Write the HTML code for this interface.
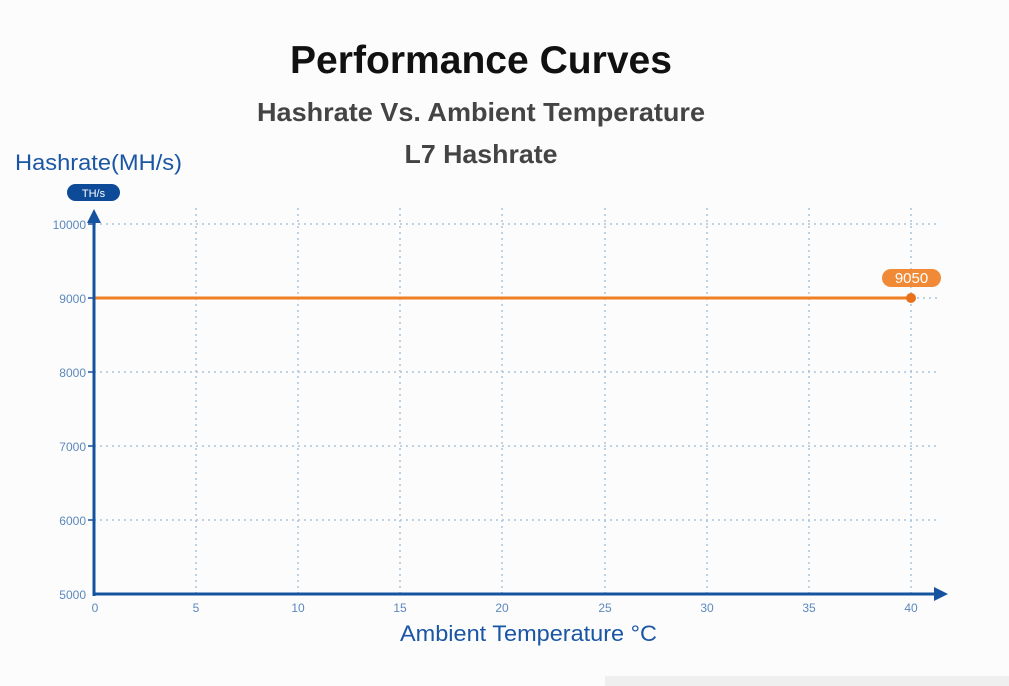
<!DOCTYPE html>
<html><head><meta charset="utf-8"><style>
html,body{margin:0;padding:0;background:#fafafa;}
svg{display:block;font-family:"Liberation Sans",sans-serif;}
</style></head><body>
<svg width="1009" height="686" viewBox="0 0 1009 686" xmlns="http://www.w3.org/2000/svg">
<rect x="0" y="0" width="1009" height="686" fill="#fcfcfc"/>
<rect x="605" y="676" width="404" height="10" fill="#efefef"/>
<text x="481" y="73" text-anchor="middle" font-size="39" font-weight="bold" fill="#111" textLength="382" lengthAdjust="spacingAndGlyphs">Performance Curves</text>
<text x="481" y="121" text-anchor="middle" font-size="26" font-weight="bold" fill="#444" textLength="448" lengthAdjust="spacingAndGlyphs">Hashrate Vs. Ambient Temperature</text>
<text x="481" y="163" text-anchor="middle" font-size="26" font-weight="bold" fill="#444" textLength="153" lengthAdjust="spacingAndGlyphs">L7 Hashrate</text>
<text x="15" y="170" font-size="22" fill="#1a56a3" textLength="167" lengthAdjust="spacingAndGlyphs">Hashrate(MH/s)</text>
<rect x="67" y="184" width="53" height="17" rx="8.5" fill="#0d4a98"/>
<text x="93.5" y="197" text-anchor="middle" font-size="11" fill="#fff">TH/s</text>
<g stroke="#a9c3dd" stroke-width="1.5" stroke-dasharray="2,4">
<line x1="94" y1="224" x2="940" y2="224"/>
<line x1="94" y1="372" x2="940" y2="372"/>
<line x1="94" y1="446" x2="940" y2="446"/>
<line x1="94" y1="520" x2="940" y2="520"/>
<line x1="911" y1="298" x2="940" y2="298"/>
<line x1="196" y1="208" x2="196" y2="594"/>
<line x1="298" y1="208" x2="298" y2="594"/>
<line x1="400" y1="208" x2="400" y2="594"/>
<line x1="502" y1="208" x2="502" y2="594"/>
<line x1="605" y1="208" x2="605" y2="594"/>
<line x1="707" y1="208" x2="707" y2="594"/>
<line x1="809" y1="208" x2="809" y2="594"/>
<line x1="911" y1="208" x2="911" y2="594"/>
</g>
<line x1="94" y1="298" x2="911" y2="298" stroke="#f08024" stroke-width="3"/>
<circle cx="911" cy="298" r="5" fill="#e8721c"/>
<rect x="882" y="269" width="59" height="18" rx="9" fill="#f08a36"/>
<text x="911.5" y="283" text-anchor="middle" font-size="15" fill="#fff">9050</text>
<g stroke="#1553a0" stroke-width="3" fill="none">
<line x1="94" y1="596" x2="94" y2="222"/>
<line x1="92.5" y1="594" x2="936" y2="594"/>
</g>
<polygon points="94,209 87,223 101,223" fill="#1553a0"/>
<polygon points="948,594 934,587 934,601" fill="#1553a0"/>
<g stroke="#1553a0" stroke-width="1.5">
<line x1="88" y1="224" x2="94" y2="224"/><line x1="88" y1="298" x2="94" y2="298"/>
<line x1="88" y1="372" x2="94" y2="372"/><line x1="88" y1="446" x2="94" y2="446"/>
<line x1="88" y1="520" x2="94" y2="520"/>
</g>
<g font-size="12" fill="#5b88bd" text-anchor="end">
<text x="86" y="229">10000</text><text x="86" y="303">9000</text>
<text x="86" y="377">8000</text><text x="86" y="451">7000</text>
<text x="86" y="525">6000</text><text x="86" y="599">5000</text>
</g>
<g font-size="12" fill="#5b88bd" text-anchor="middle">
<text x="95" y="612">0</text><text x="196" y="612">5</text><text x="298" y="612">10</text>
<text x="400" y="612">15</text><text x="502" y="612">20</text><text x="605" y="612">25</text>
<text x="707" y="612">30</text><text x="809" y="612">35</text><text x="911" y="612">40</text>
</g>
<text x="400" y="641" font-size="22" fill="#1a56a3" textLength="257" lengthAdjust="spacingAndGlyphs">Ambient Temperature °C</text>
</svg>
</body></html>
